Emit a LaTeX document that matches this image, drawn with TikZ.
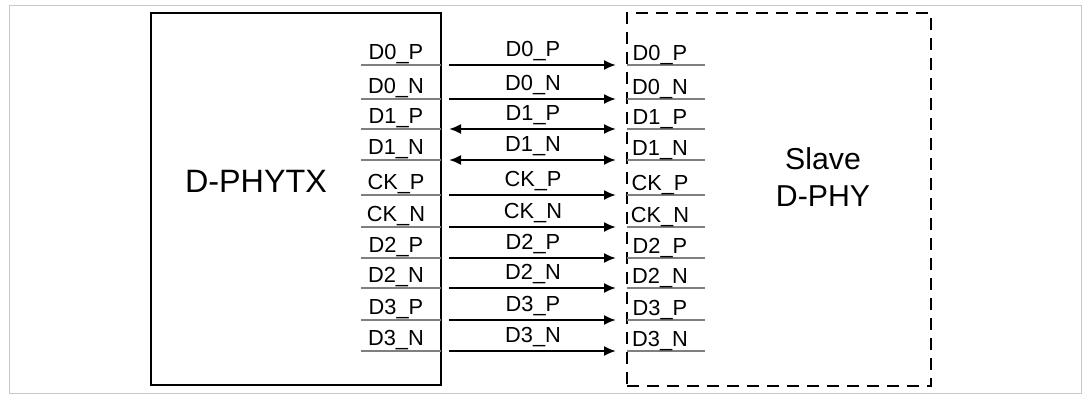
\documentclass[tikz,border=0pt]{standalone}
\usepackage{fontspec}
\setmainfont{Liberation Sans}
\definecolor{dphyPin}{HTML}{7F7F7F}
\definecolor{dphyFrame}{HTML}{C8C8C8}
\usetikzlibrary{arrows.meta,positioning}

\begin{document}
\begin{tikzpicture}[x=0.025cm,y=-0.025cm,
		pin/.style={font=\fontsize{15.5}{18}\selectfont, anchor=base, inner sep=0pt},
		uni/.style={-{Latex[length=3mm,width=2.5mm]}, line width=1.4pt},
		bi/.style={{Latex[length=3mm,width=2.5mm]}-{Latex[length=3mm,width=2.5mm]}, line width=1.4pt},
		pinline/.style={draw=dphyPin, line width=1pt}]
		
		% Marco exterior
		\useasboundingbox (0,0) rectangle (1090,401);
		\draw[dphyFrame, line width=0.6pt] (9,5) rectangle (1081,393);
		
		% Bloques
		\node[draw, line width=2pt, minimum width=7.25cm, minimum height=9.3cm, inner sep=0pt] (tx) at (296,199) {};
		\node[draw, line width=1.5pt, dash pattern=on 0.3cm off 0.2cm, minimum width=7.6cm, minimum height=9.325cm, inner sep=0pt] (rx) at (779,199.5) {};
		
		\node[font=\fontsize{23}{28}\selectfont, anchor=base, inner sep=0pt] (txname) at (256,192) {D-PHYTX};
		\node[font=\fontsize{21.5}{26.5}\selectfont, align=center, inner sep=0pt] (rxname) at (823,177) {Slave\\D-PHY};
		
		% Carriles
		\foreach \n/\lab/\y/\tip in {0/D0\_P/65/uni, 1/D0\_N/99/uni, 2/D1\_P/129/bi, 3/D1\_N/160/bi,
			4/CK\_P/195/uni, 5/CK\_N/227/uni, 6/D2\_P/258/uni, 7/D2\_N/288/uni,
			8/D3\_P/320/uni, 9/D3\_N/351/uni}{
			\coordinate (tl\n) at (361,\y);
			\coordinate (tr\n) at (441,\y);
			\coordinate (rl\n) at (627,\y);
			\coordinate (rr\n) at (705,\y);
			\coordinate (a\n) at (449,\y);
			\coordinate (b\n) at (616,\y);
			\draw[pinline] (tl\n) -- (tr\n);
			\draw[pinline] (rl\n) -- (rr\n);
			\draw[\tip] (a\n) -- (b\n);
			\node[pin] (ptx\n) at (396,\y-6) {\lab};
			\node[pin] (prx\n) at (660,\y-5) {\lab};
			\node[pin] (pmid\n) at (533,\y-9) {\lab};
		}
		
	\end{tikzpicture}
\end{document}
